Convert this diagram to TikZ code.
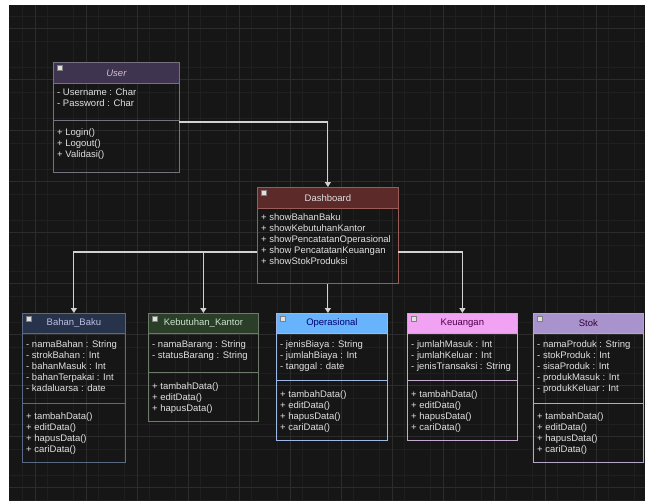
\documentclass[tikz,border=0pt]{standalone}
\usepackage{fontspec}
\setmainfont{Liberation Sans}
\usetikzlibrary{arrows.meta}

\definecolor{bg}{HTML}{161616}
\definecolor{gridmajor}{HTML}{2C2C2C}
\definecolor{gridminor}{HTML}{1F1F1F}
\definecolor{txt}{HTML}{E0E0E0}
\definecolor{wire}{HTML}{D2D2D2}
\definecolor{userhead}{HTML}{3E3450}
\definecolor{userline}{HTML}{77707F}
\definecolor{dashhead}{HTML}{5C2B29}
\definecolor{dashline}{HTML}{9A5C56}
\definecolor{bahanhead}{HTML}{26334A}
\definecolor{bahanline}{HTML}{5A6A82}
\definecolor{kebuthead}{HTML}{2A3E28}
\definecolor{kebutline}{HTML}{6C7A6A}
\definecolor{operhead}{HTML}{68B4FC}
\definecolor{operline}{HTML}{9DB8E4}
\definecolor{keuhead}{HTML}{F2A2F2}
\definecolor{keuline}{HTML}{C7AACF}
\definecolor{stokhead}{HTML}{A993CC}
\definecolor{stokline}{HTML}{B5A8C6}

\begin{document}
\begin{tikzpicture}[x=1pt,y=-1pt,
  classbox/.style={draw=#1,line width=0.8pt,anchor=north west,inner sep=0pt},
  classhead/.style={draw=#1,line width=0.8pt,anchor=north west,inner sep=0pt,minimum height=21pt},
  members/.style={anchor=north west,inner sep=0pt,align=left,text=txt},
  icon/.style={draw=gray,fill=txt,minimum size=5pt,inner sep=0pt},
  sep/.style={draw=#1,line width=0.8pt},
  link/.style={draw=wire,line width=1.1pt,-{Triangle[width=6pt,length=5pt]}},
  font=\fontsize{9.5}{11.1}\selectfont]
  \useasboundingbox (0,0) rectangle (645,501);
  \fill[bg] (9,5) rectangle (645,501);

  % grid
  \foreach \gx in {22,47.5,...,645} \draw[gridminor,line width=0.5pt] (\gx,5) -- (\gx,501);
  \foreach \gy in {16,41.5,...,501} \draw[gridminor,line width=0.5pt] (9,\gy) -- (645,\gy);
  \foreach \gx in {35,86,...,645} \draw[gridmajor,line width=0.6pt] (\gx,5) -- (\gx,501);
  \foreach \gy in {28,79,...,501} \draw[gridmajor,line width=0.6pt] (9,\gy) -- (645,\gy);

  % User
  \node[classbox=userline,minimum width=126pt,minimum height=110pt] (user) at (53,62) {};
  \node[classhead=userline,fill=userhead,text=txt!85!violet,minimum width=126pt] (userhd) at (user.north west) {\itshape User};
  \node[icon] (usericon) at ([xshift=7pt,yshift=-6pt]userhd.north west) {};
  \node[members] (userattr) at (57,88) {- Username : Char\\- Password : Char};
  \draw[sep=userline] (53,120) -- (179,120);
  \node[members] (usermeth) at (57,128) {+ Login()\\+ Logout()\\+ Validasi()};
  \coordinate (userout) at (179,122);

  % Dashboard
  \node[classbox=dashline,minimum width=141pt,minimum height=96pt] (dash) at (257,187) {};
  \node[classhead=dashline,fill=dashhead,text=txt,minimum width=141pt] (dashhd) at (dash.north west) {Dashboard};
  \node[icon] (dashicon) at ([xshift=7pt,yshift=-6pt]dashhd.north west) {};
  \node[members] (dashmeth) at (261,213) {+ showBahanBaku\\+ showKebutuhanKantor\\+ showPencatatanOperasional\\+ show PencatatanKeuangan\\+ showStokProduksi};
  \coordinate (dashL) at (257,252);
  \coordinate (dashR) at (398,252);

  % Bahan_Baku
  \node[classbox=bahanline,minimum width=103pt,minimum height=149pt] (bahan) at (22,313) {};
  \node[classhead=bahanline,fill=bahanhead,text=txt!85!blue,minimum width=103pt,minimum height=20pt] (bahanhd) at (bahan.north west) {Bahan\_Baku};
  \node[icon] (bahanicon) at ([xshift=7pt,yshift=-6pt]bahanhd.north west) {};
  \node[members] (bahanattr) at (26,340) {- namaBahan : String\\- strokBahan : Int\\- bahanMasuk : Int\\- bahanTerpakai : Int\\- kadaluarsa : date};
  \draw[sep=bahanline] (22,403) -- (125,403);
  \node[members] (bahanmeth) at (26,412) {+ tambahData()\\+ editData()\\+ hapusData()\\+ cariData()};

  % Kebutuhan_Kantor
  \node[classbox=kebutline,minimum width=110pt,minimum height=108pt] (kebut) at (148,313) {};
  \node[classhead=kebutline,fill=kebuthead,text=txt!90!green,minimum width=110pt,minimum height=20pt] (kebuthd) at (kebut.north west) {Kebutuhan\_Kantor};
  \node[icon] (kebuticon) at ([xshift=7pt,yshift=-6pt]kebuthd.north west) {};
  \node[members] (kebutattr) at (152,340) {- namaBarang : String\\- statusBarang : String};
  \draw[sep=kebutline] (148,372) -- (258,372);
  \node[members] (kebutmeth) at (152,382) {+ tambahData()\\+ editData()\\+ hapusData()};

  % Operasional
  \node[classbox=operline,minimum width=111pt,minimum height=127pt] (oper) at (276,313) {};
  \node[classhead=operline,fill=operhead,text=blue!45!black,minimum width=111pt,minimum height=20pt] (operhd) at (oper.north west) {Operasional};
  \node[icon] (opericon) at ([xshift=7pt,yshift=-6pt]operhd.north west) {};
  \node[members] (operattr) at (280,340) {- jenisBiaya : String\\- jumlahBiaya : Int\\- tanggal : date};
  \draw[sep=operline] (276,380) -- (387,380);
  \node[members] (opermeth) at (280,390) {+ tambahData()\\+ editData()\\+ hapusData()\\+ cariData()};

  % Keuangan
  \node[classbox=keuline,minimum width=110pt,minimum height=127pt] (keu) at (407,313) {};
  \node[classhead=keuline,fill=keuhead,text=violet!60!black,minimum width=110pt,minimum height=20pt] (keuhd) at (keu.north west) {Keuangan};
  \node[icon] (keuicon) at ([xshift=7pt,yshift=-6pt]keuhd.north west) {};
  \node[members] (keuattr) at (411,340) {- jumlahMasuk : Int\\- jumlahKeluar : Int\\- jenisTransaksi : String};
  \draw[sep=keuline] (407,380) -- (517,380);
  \node[members] (keumeth) at (411,390) {+ tambahData()\\+ editData()\\+ hapusData()\\+ cariData()};

  % Stok
  \node[classbox=stokline,minimum width=110pt,minimum height=149pt] (stok) at (533,313) {};
  \node[classhead=stokline,fill=stokhead,text=violet!40!black,minimum width=110pt,minimum height=20pt] (stokhd) at (stok.north west) {Stok};
  \node[icon] (stokicon) at ([xshift=7pt,yshift=-6pt]stokhd.north west) {};
  \node[members] (stokattr) at (537,340) {- namaProduk : String\\- stokProduk : Int\\- sisaProduk : Int\\- produkMasuk : Int\\- produkKeluar : Int};
  \draw[sep=stokline] (533,403) -- (643,403);
  \node[members] (stokmeth) at (537,412) {+ tambahData()\\+ editData()\\+ hapusData()\\+ cariData()};

  % connectors
  \draw[link] (userout) -| (dash.north);
  \draw[link] (dashL) -| (bahan.north);
  \draw[link] (dashL) -| (kebut.north);
  \draw[link] (dash.south) -- (dash.south |- oper.north);
  \draw[link] (dashR) -| (keu.north);
\end{tikzpicture}
\end{document}
